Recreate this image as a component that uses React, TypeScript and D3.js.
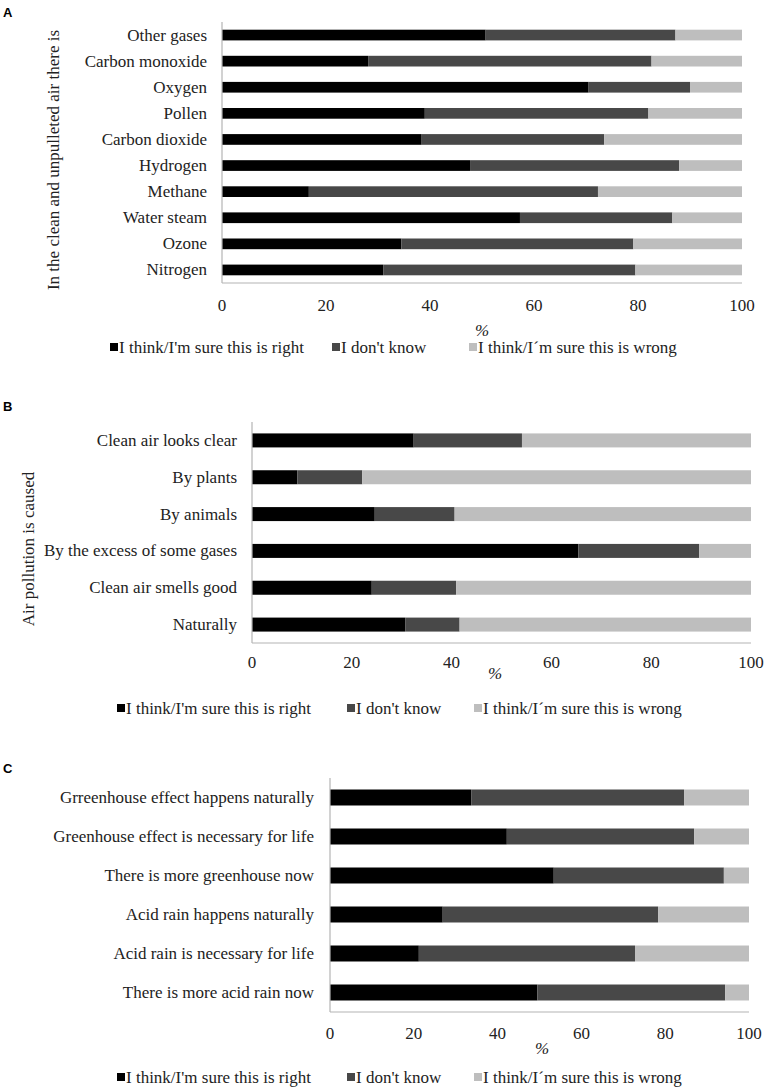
import React from 'react';
import * as d3 from 'd3';

// legend / series
const seriesKeys = ['right', 'dontKnow', 'wrong'];
const legendLabels = ["I think/I'm sure this is right", "I don't know", 'I think/I´m sure this is wrong'];
const seriesColors = ['#000000', '#484848', '#bebebe'];
const xTicks = [0, 20, 40, 60, 80, 100];

// Panel A
const aCategories = ['Other gases', 'Carbon monoxide', 'Oxygen', 'Pollen', 'Carbon dioxide', 'Hydrogen', 'Methane', 'Water steam', 'Ozone', 'Nitrogen'];
const aRight = [50.7, 28.1, 70.5, 39.0, 38.4, 47.7, 16.7, 57.3, 34.5, 31.0];
const aDontKnow = [36.5, 54.5, 19.5, 43.0, 35.1, 40.2, 55.6, 29.3, 44.6, 48.5];
const aWrong = [12.8, 17.4, 10.0, 18.0, 26.5, 12.1, 27.7, 13.4, 20.9, 20.5];

// Panel B
const bCategories = ['Clean air looks clear', 'By plants', 'By animals', 'By the excess of some gases', 'Clean air smells good', 'Naturally'];
const bRight = [32.4, 9.1, 24.6, 65.4, 24.0, 30.7];
const bDontKnow = [21.7, 13.0, 16.0, 24.2, 16.9, 10.9];
const bWrong = [45.9, 77.9, 59.4, 10.4, 59.1, 58.4];

// Panel C
const cCategories = ['Grreenhouse effect happens naturally', 'Greenhouse effect is necessary for life', 'There is more greenhouse now', 'Acid rain happens naturally', 'Acid rain is necessary for life', 'There is more acid rain now'];
const cRight = [33.7, 42.2, 53.4, 26.9, 21.2, 49.5];
const cDontKnow = [50.8, 44.7, 40.6, 51.4, 51.6, 44.8];
const cWrong = [15.5, 13.1, 6.0, 21.7, 27.2, 5.7];

const SERIF = '"Liberation Serif", "Times New Roman", serif';

type Row = { cat: string; right: number; dontKnow: number; wrong: number };

interface PanelProps {
  letter: string;
  letterY: number;
  categories: string[];
  right: number[];
  dontKnow: number[];
  wrong: number[];
  x0: number;
  x1: number;
  yTop: number;
  yBottom: number;
  padding: number;
  labelGap: number;
  tickY: number;
  pctX: number;
  pctY: number;
  legendY: number;
  legendX: number[];
  yTitle?: string;
  yTitleX?: number;
  yTitleY?: number;
  fontSize: number;
}

const Panel: React.FC<PanelProps> = (p) => {
  const rows: Row[] = p.categories.map((cat, i) => ({
    cat,
    right: p.right[i],
    dontKnow: p.dontKnow[i],
    wrong: p.wrong[i],
  }));
  const x = d3.scaleLinear().domain([0, 100]).range([p.x0, p.x1]);
  const y = d3
    .scaleBand<string>()
    .domain(p.categories)
    .range([p.yTop, p.yBottom])
    .paddingInner(p.padding)
    .paddingOuter(p.padding / 2);
  const stacked = d3.stack<Row>().keys(seriesKeys)(rows);

  return (
    <g>
      <text x={3} y={p.letterY} fontFamily='"Liberation Sans", Arial, sans-serif' fontWeight="bold" fontSize={13}>
        {p.letter}
      </text>
      {stacked.map((layer, li) => (
        <g key={layer.key} fill={seriesColors[li]}>
          {layer.map((d, i) => (
            <rect
              key={i}
              x={x(d[0])}
              y={y(rows[i].cat)}
              width={Math.max(0, x(Math.min(100, d[1])) - x(d[0]))}
              height={y.bandwidth()}
            />
          ))}
        </g>
      ))}
      {/* axes */}
      <line x1={p.x0} x2={p.x0} y1={p.yTop} y2={p.yBottom} stroke="#b4b4b4" strokeWidth={1.2} />
      <line x1={p.x0} x2={p.x1} y1={p.yBottom} y2={p.yBottom} stroke="#b4b4b4" strokeWidth={1.2} />
      {p.categories.map((c) => (
        <text
          key={c}
          x={p.x0 - p.labelGap}
          y={(y(c) ?? 0) + y.bandwidth() / 2}
          textAnchor="end"
          dominantBaseline="central"
          fontFamily={SERIF}
          fontSize={p.fontSize}
          fill="#222"
        >
          {c}
        </text>
      ))}
      {xTicks.map((t) => (
        <text
          key={t}
          x={x(t)}
          y={p.tickY}
          textAnchor="middle"
          dominantBaseline="central"
          fontFamily={SERIF}
          fontSize={p.fontSize}
          fill="#222"
        >
          {t}
        </text>
      ))}
      <text x={p.pctX} y={p.pctY} textAnchor="middle" dominantBaseline="central" fontFamily={SERIF} fontStyle="italic" fontSize={p.fontSize} fill="#222">
        %
      </text>
      {p.yTitle && (
        <text
          transform={`translate(${p.yTitleX},${p.yTitleY}) rotate(-90)`}
          textAnchor="middle"
          dominantBaseline="central"
          fontFamily={SERIF}
          fontSize={p.fontSize}
          fill="#222"
        >
          {p.yTitle}
        </text>
      )}
      {legendLabels.map((l, i) => (
        <g key={l}>
          <rect x={p.legendX[i]} y={p.legendY - 4} width={8} height={8} fill={seriesColors[i]} />
          <text
            x={p.legendX[i] + 9}
            y={p.legendY}
            dominantBaseline="central"
            fontFamily={SERIF}
            fontSize={p.fontSize}
            fill="#222"
          >
            {l}
          </text>
        </g>
      ))}
    </g>
  );
};

const App: React.FC = () => {
  return (
    <svg
      width={767}
      height={1089}
      style={{ position: 'absolute', left: 0, top: 0, background: '#fff' }}
    >
      <rect width={767} height={1089} fill="#fff" />
      <Panel
        letter="A"
        letterY={17}
        categories={aCategories}
        right={aRight}
        dontKnow={aDontKnow}
        wrong={aWrong}
        x0={222}
        x1={742}
        yTop={22}
        yBottom={283}
        padding={0.59}
        labelGap={15}
        tickY={305}
        pctX={482}
        pctY={330}
        legendY={347}
        legendX={[110, 332, 469]}
        yTitle="In the clean and unpulleted air there is"
        yTitleX={53}
        yTitleY={160}
        fontSize={17}
      />
      <Panel
        letter="B"
        letterY={411}
        categories={bCategories}
        right={bRight}
        dontKnow={bDontKnow}
        wrong={bWrong}
        x0={252}
        x1={751}
        yTop={422}
        yBottom={643}
        padding={0.62}
        labelGap={15}
        tickY={662}
        pctX={495}
        pctY={673}
        legendY={708}
        legendX={[117, 347, 474]}
        yTitle="Air pollution is caused"
        yTitleX={28}
        yTitleY={549}
        fontSize={17}
      />
      <Panel
        letter="C"
        letterY={773}
        categories={cCategories}
        right={cRight}
        dontKnow={cDontKnow}
        wrong={cWrong}
        x0={330}
        x1={749}
        yTop={778}
        yBottom={1012}
        padding={0.59}
        labelGap={16}
        tickY={1033}
        pctX={542}
        pctY={1048}
        legendY={1077}
        legendX={[117, 347, 474]}
        fontSize={17}
      />
    </svg>
  );
};

export default App;
